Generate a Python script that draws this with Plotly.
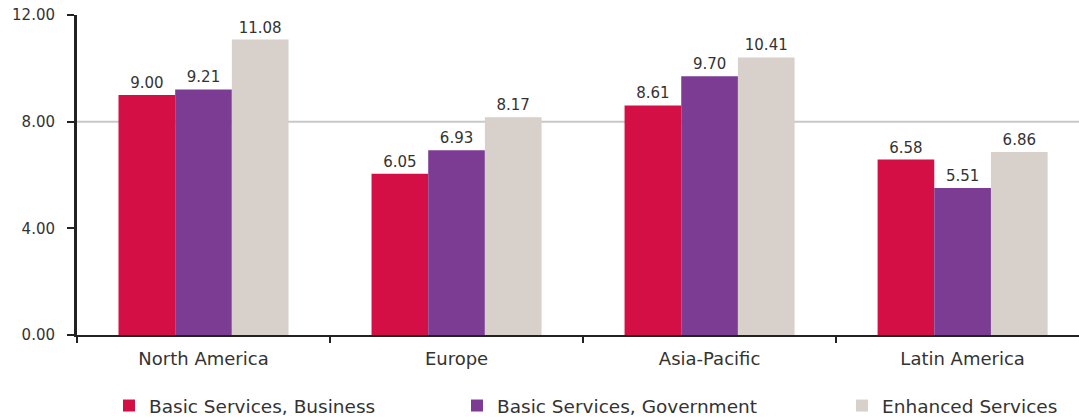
import plotly.graph_objects as go

categories = ["North America", "Europe", "Asia-Pacific", "Latin America"]
series_names = ["Basic Services, Business", "Basic Services, Government", "Enhanced Services"]
business = [9.00, 6.05, 8.61, 6.58]
government = [9.21, 6.93, 9.70, 5.51]
enhanced = [11.08, 8.17, 10.41, 6.86]
y_ticks = [0, 4, 8, 12]
y_tick_labels = ["0.00", "4.00", "8.00", "12.00"]
grid_values = [8]

colors = ["#d30f45", "#7c3c94", "#d8d0cb"]
FONT = "DejaVu Sans"

fig = go.Figure()
legend_ids = ["legend", "legend2", "legend3"]
for name, vals, col, lg in zip(series_names, [business, government, enhanced], colors, legend_ids):
    fig.add_trace(go.Bar(
        x=categories, y=vals, name=name, marker=dict(color=col, line=dict(width=0)),
        text=[f"{v:.2f}" for v in vals], textposition="outside",
        textfont=dict(family=FONT, size=15, color="#333333"),
        cliponaxis=False, legend=lg,
    ))

for g in grid_values:
    fig.add_shape(type="line", xref="paper", x0=0, x1=1, yref="y", y0=g, y1=g,
                  line=dict(color="#c8c8c8", width=2), layer="below")

leg_common = dict(orientation="h", xanchor="left", yanchor="middle", yref="container", xref="container",
                  font=dict(family=FONT, size=18.5, color="#333333"), bgcolor="rgba(0,0,0,0)",
                  itemwidth=30, itemsizing="constant", traceorder="normal")
fig.update_layout(
    width=1079, height=417,
    margin=dict(l=77, r=0, t=15, b=82),
    paper_bgcolor="white", plot_bgcolor="white",
    barmode="group", bargap=0.328, bargroupgap=0,
    showlegend=True,
    legend=dict(x=109 / 1079, y=1 - 406 / 417, **leg_common),
    legend2=dict(x=457 / 1079, y=1 - 406 / 417, **leg_common),
    legend3=dict(x=842 / 1079, y=1 - 406 / 417, **leg_common),
    font=dict(family=FONT, color="#333333"),
)
fig.update_xaxes(
    range=[-0.5, 3.46], showline=True, linecolor="#222222", linewidth=2,
    ticks="outside", tickson="boundaries", ticklen=6, tickwidth=2, tickcolor="#222222",
    tickfont=dict(family=FONT, size=18, color="#333333"), showgrid=False,
    ticklabelstandoff=6,
)
fig.update_yaxes(
    range=[0, 12], tickvals=y_ticks, ticktext=y_tick_labels, showline=True,
    linecolor="#222222", linewidth=3, ticks="outside", ticklen=7, tickwidth=2, tickcolor="#222222",
    tickfont=dict(family=FONT, size=15, color="#333333"), showgrid=False, zeroline=False,
    ticklabelstandoff=9,
)

fig.write_html("out.html")
